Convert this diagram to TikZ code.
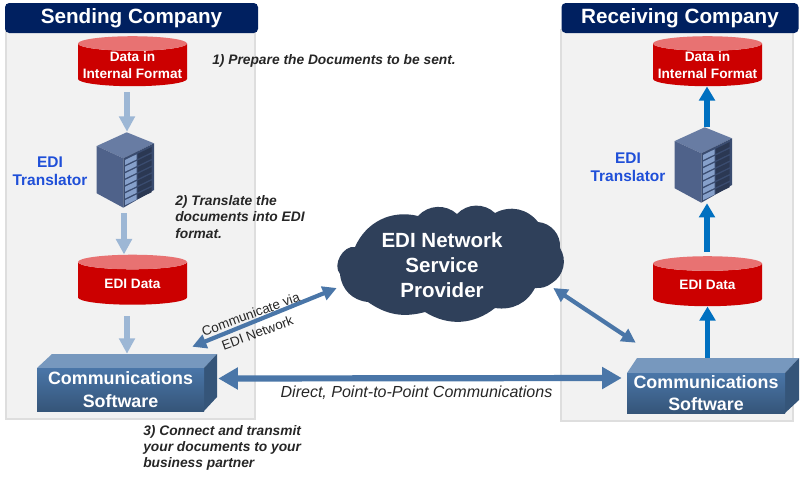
\documentclass[tikz,border=0pt]{standalone}
\usepackage{fontspec}
\setmainfont{Liberation Sans}
\usetikzlibrary{arrows.meta,shapes.geometric}
\def\pxu{0.025cm}
\definecolor{navyhead}{HTML}{002060}
\definecolor{panelfill}{HTML}{F2F2F2}
\definecolor{panelline}{HTML}{DEDEDE}
\definecolor{dbred}{HTML}{CC0000}
\definecolor{dbtop}{HTML}{E87272}
\definecolor{paleflow}{HTML}{9DB7D5}
\definecolor{blueflow}{HTML}{0070C0}
\definecolor{netflow}{HTML}{4A76A8}
\definecolor{cloudfill}{HTML}{2F405A}
\definecolor{edilabel}{HTML}{1F4FD8}
\definecolor{srvtop}{HTML}{687CA3}
\definecolor{srvleft}{HTML}{4F628A}
\definecolor{srvface}{HTML}{3A4C70}
\definecolor{srvlight}{HTML}{86A0CA}
\definecolor{srvdark}{HTML}{2B3853}
\tikzset{
    panel/.style={draw=panelline, fill=panelfill, line width=0.8pt},
    headbox/.style={fill=navyhead, rounded corners=3pt, text=white, font=\bfseries\fontsize{14.7}{17}\selectfont, minimum height=30*\pxu},
    database/.style={cylinder, shape border rotate=90, aspect=0.26, cylinder uses custom fill, cylinder body fill=dbred, cylinder end fill=dbtop, minimum width=109*\pxu, minimum height=50*\pxu, inner sep=0pt, text=white, font=\bfseries\fontsize{9.7}{12}\selectfont},
    dbtext/.style={text=white, align=center, inner sep=0pt, font=\bfseries\fontsize{9.7}{12}\selectfont},
    translabel/.style={text=edilabel, align=center, font=\bfseries\fontsize{11}{13}\selectfont},
    steptext/.style={text=black!85, align=left, anchor=west, inner sep=0pt, font=\bfseries\itshape\fontsize{9.8}{11.6}\selectfont},
    commfront/.style={top color=netflow, bottom color=netflow!72!black, text=white, align=center, inner sep=0pt, font=\bfseries\fontsize{12.7}{16}\selectfont},
    commtop/.style={fill=netflow!75!white},
    commside/.style={fill=netflow!72!black},
    paleline/.style={draw=paleflow, line width=3.6pt, -{Triangle[length=11pt,width=11pt]}},
    blueline/.style={draw=blueflow, line width=3.6pt, -{Triangle[length=10pt,width=11pt]}},
    netline/.style={draw=netflow, line width=3pt, {Triangle[length=10pt,width=10pt]}-{Triangle[length=10pt,width=10pt]}},
    directline/.style={draw=netflow, line width=4.4pt, {Triangle[length=14pt,width=15pt]}-{Triangle[length=14pt,width=15pt]}},
    hidebox/.style={inner sep=0pt, minimum width=57*\pxu, minimum height=76*\pxu},
    server/.pic={
        \fill[fill=srvtop] (1.2,-37.7) -- (-28.8,-24) -- (-2.2,-11.7) -- (28.5,-26.7) -- cycle;
        \fill[fill=srvleft] (-28.8,-24) -- (-2.2,-11.7) -- (-2.2,37.7) -- (-28.8,23.3) -- cycle;
        \fill[fill=srvface] (-2.2,-11.7) -- (28.5,-26.7) -- (28.5,20) -- (-2.2,37.7) -- cycle;
        \foreach \rowy in {0,...,6} {
            \fill[fill=srvlight] (-0.5,-10+6.7*\rowy) -- (11.2,-15.7+6.7*\rowy) -- (11.2,-10.7+6.7*\rowy) -- (-0.5,-5+6.7*\rowy) -- cycle;
            \fill[fill=srvdark] (12.2,-16.2+6.7*\rowy) -- (26.2,-23+6.7*\rowy) -- (26.2,-18+6.7*\rowy) -- (12.2,-11.2+6.7*\rowy) -- cycle;
        }
    }
}
\begin{document}
\begin{tikzpicture}[x=\pxu, y=-\pxu]
        \useasboundingbox (0,0) rectangle (800,488);

        % company panels
        \filldraw[panel] (6,30) rectangle (255,419);
        \filldraw[panel] (561,30) rectangle (793,421);
        \node[headbox, minimum width=253*\pxu] (headA) at (131.5,18) {Sending Company};
        \node[headbox, minimum width=237*\pxu] (headB) at (680,18) {Receiving Company};

        % sending side
        \node[database, label={[dbtext]center:Data in\\Internal Format}] (dataA) at (132.5,65) {\phantom{EDI Data}};
        \node[hidebox] (srvA) at (127,170) {};
        \pic at (125.5,170) {server};
        \node[translabel] (transA) at (50,171) {EDI\\Translator};
        \node[database] (ediA) at (132.5,283.5) {EDI Data};
        \node[inner sep=0pt, minimum width=180*\pxu, minimum height=57*\pxu] (commA) at (127,382.5) {};
        \fill[commtop] (37,368) -- (52,354) -- (217,354) -- (204,368) -- cycle;
        \fill[commside] (204,368) -- (217,354) -- (217,397) -- (204,411) -- cycle;
        \node[commfront, minimum width=167*\pxu, minimum height=43*\pxu] (softA) at (120.5,389.5) {Communications\\Software};

        % receiving side
        \node[database, label={[dbtext]center:Data in\\Internal Format}] (dataB) at (707.5,65) {\phantom{EDI Data}};
        \node[hidebox] (srvB) at (707,165) {};
        \pic at (703.5,165) {server};
        \node[translabel] (transB) at (628,167) {EDI\\Translator};
        \node[database] (ediB) at (707.5,285) {EDI Data};
        \node[inner sep=0pt, minimum width=172*\pxu, minimum height=55*\pxu] (commB) at (713,385.5) {};
        \fill[commtop] (627,373) -- (637,358) -- (799,358) -- (785,373) -- cycle;
        \fill[commside] (785,373) -- (799,358) -- (799,400) -- (785,413) -- cycle;
        \node[commfront, minimum width=158*\pxu, minimum height=40*\pxu] (softB) at (706,393) {Communications\\Software};

        % provider cloud
        \fill[cloudfill] (355,247) to[bend left=40] (418,216) to[bend left=45] (457,214) to[bend left=45] (495,213)
            to[bend left=40] (538,222) to[bend left=45] (560,248) to[bend left=45] (552,283) to[bend left=20] (535,288)
            to[bend left=35] (495,308) to[bend left=35] (425,312) to[bend left=25] (368,302) to[bend left=40] (340,274)
            to[bend left=70] cycle;
        \node[text=white, align=center, inner sep=0pt, minimum width=216*\pxu, minimum height=110*\pxu, font=\bfseries\fontsize{14.6}{17.8}\selectfont] (cloud) at (442,265) {EDI Network\\Service\\Provider};

        % flows
        \draw[paleline] ([yshift=-6*\pxu]dataA.south -| srvA.north) -- (srvA.north);
        \draw[paleline] ([xshift=-3*\pxu, yshift=-5*\pxu]srvA.south) -- ([xshift=-3*\pxu]srvA.south |- ediA.north);
        \draw[paleline] ([yshift=-11*\pxu]ediA.south -| commA.north) -- (commA.north);
        \draw[blueline] (srvB.north) -- (dataB.south -| srvB.north);
        \draw[blueline] ([yshift=4*\pxu]ediB.north -| srvB.south) -- (srvB.south);
        \draw[blueline] (commB.north -| ediB.south) -- (ediB.south);

        \draw[netline] ([shift={(-25,-7)}]commA.north east) -- ([shift={(3,23)}]cloud.west);
        \draw[netline] ([shift={(3,23)}]cloud.east) -- ([shift={(9,-15)}]commB.north west);
        \draw[directline] ([shift={(1,-4)}]commA.east) -- ([shift={(-5,-7.5)}]commB.west);

        % labels
        \node[steptext] (stepone) at (212,61) {1) Prepare the Documents to be sent.};
        \node[steptext] (steptwo) at (175,217) {2) Translate the\\documents into EDI\\format.};
        \node[steptext] (stepthree) at (143,448) {3) Connect and transmit\\your documents to your\\business partner};
        \node[text=black!85, font=\itshape\fontsize{11.4}{13}\selectfont] (directlabel) at (416.5,393) {Direct, Point-to-Point Communications};
        \node[text=black!85, rotate=20, align=center, font=\fontsize{9.5}{14}\selectfont] (netlabel) at (254,323.5) {Communicate via\\EDI Network};
    \end{tikzpicture}
\end{document}
